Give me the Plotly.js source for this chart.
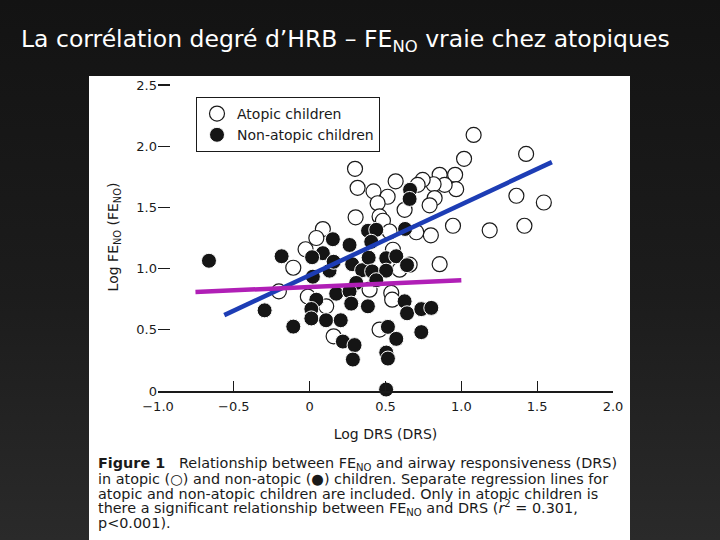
<!DOCTYPE html>
<html>
<head>
<meta charset="utf-8">
<script src="https://cdn.plot.ly/plotly-3.0.1.min.js"></script>
<style>
html, body { margin: 0; padding: 0; width: 720px; height: 540px; overflow: hidden;
  background: linear-gradient(to bottom, #131313 0%, #1c1c1c 55%, #2a2a2a 100%); }
#chart { width: 720px; height: 540px; }
</style>
</head>
<body>
<div id="chart"></div>
<script>
// ---- data ----
const atopicX = [1.081, 1.018, 1.427, 0.299, 0.316, 0.421, 0.567, 0.514, 0.857, 0.959,
  0.966, 0.890, 0.817, 0.745, 0.712, 0.824, 0.791, 0.448, 0.461, 0.626,
  0.303, 0.483, 1.363, 1.544, 0.945, 1.187, 1.416, 0.799, 0.703, 0.527,
  0.857, 0.087, 0.044, -0.027, 0.549, 0.659, 0.593, -0.108, -0.203, -0.012,
  0.109, 0.395, 0.538, 0.544, 0.461, 0.158];
const atopicY = [2.092, 1.897, 1.937, 1.815, 1.660, 1.631, 1.713, 1.587, 1.766, 1.766,
  1.649, 1.684, 1.689, 1.725, 1.684, 1.576, 1.517, 1.534, 1.426, 1.480,
  1.419, 1.391, 1.595, 1.540, 1.350, 1.313, 1.350, 1.272, 1.297, 1.303,
  1.036, 1.323, 1.250, 1.158, 1.154, 1.032, 0.991, 1.007, 0.814, 0.771,
  0.692, 0.828, 0.801, 0.746, 0.502, 0.447];

const nonAtopicX = [0.662, 0.659, 0.385, 0.439, 0.153, 0.263, 0.406, 0.629, 0.087, 0.016,
  0.021, 0.280, 0.346, 0.389, 0.412, 0.505, 0.571, 0.504, 0.642, 0.439,
  0.131, -0.664, -0.185, -0.297, -0.108, 0.307, 0.175, 0.263, 0.044, 0.011,
  0.274, 0.384, 0.626, 0.642, 0.736, 0.802, 0.011, 0.108, 0.205, 0.516,
  0.571, 0.736, 0.219, 0.296, 0.505, 0.516, 0.285, 0.504, 0.158];
const nonAtopicY = [1.644, 1.569, 1.309, 1.317, 1.240, 1.193, 1.219, 1.324, 1.126, 1.093,
  0.934, 1.036, 0.987, 1.089, 0.977, 1.085, 1.101, 0.983, 1.028, 0.905,
  0.983, 1.064, 1.101, 0.659, 0.526, 0.883, 0.795, 0.814, 0.746, 0.670,
  0.714, 0.692, 0.733, 0.635, 0.669, 0.679, 0.593, 0.578, 0.578, 0.524,
  0.426, 0.481, 0.404, 0.375, 0.314, 0.265, 0.257, 0.012, 1.056];

// regression lines (end points)
const atopicFitX = [-0.563, 1.597];
const atopicFitY = [0.62, 1.87];
const nonAtopicFitX = [-0.753, 1.0];
const nonAtopicFitY = [0.809, 0.904];

const seriesNames = ['Atopic children', 'Non-atopic children'];
const xTickVals = [-1, -0.5, 0, 0.5, 1, 1.5, 2];
const xTickText = ['\u22121.0', '\u22120.5', '0', '0.5', '1.0', '1.5', '2.0'];
const yTickVals = [0, 0.5, 1, 1.5, 2, 2.5];
const yTickText = ['0', '0.5', '1.0', '1.5', '2.0', '2.5'];

const slideTitle = 'La corrélation degré d\u2019HRB \u2013 FE<sub>NO</sub> vraie chez atopiques';
const xTitle = 'Log DRS (DRS)';
const yTitle = 'Log FE<sub>NO</sub> (FE<sub>NO</sub>)';
const captionLines = [
  '<b>Figure 1</b>   Relationship between FE<sub>NO</sub> and airway responsiveness (DRS)',
  'in atopic (\u25CB) and non-atopic (\u25CF) children. Separate regression lines for',
  'atopic and non-atopic children are included. Only in atopic children is',
  'there a significant relationship between FE<sub>NO</sub> and DRS (<i>r</i><sup>2</sup> = 0.301,',
  'p&lt;0.001).'
];

// ---- layout geometry (pixels) ----
const W = 720, H = 540;
const M = {l: 158, r: 107, t: 83, b: 149};
const PW = W - M.l - M.r, PH = H - M.t - M.b;
const px = v => (v - M.l) / PW;          // pixel x -> paper x
const py = v => (H - M.b - v) / PH;      // pixel y -> paper y
// y axis: value 2.5 sits at pixel 85, value 0 at the x axis line
const yTop = 2.5 * PH / (H - M.b - 85);

const FONT = 'DejaVu Sans';
const INK = '#1a1a1a';

const traces = [
  {x: atopicX, y: atopicY, type: 'scatter', mode: 'markers', name: seriesNames[0],
   cliponaxis: false,
   marker: {symbol: 'circle', size: 15, color: '#ffffff', line: {color: INK, width: 1.2}}},
  {x: nonAtopicX, y: nonAtopicY, type: 'scatter', mode: 'markers', name: seriesNames[1],
   cliponaxis: false,
   marker: {symbol: 'circle', size: 15, color: '#151515', line: {color: '#ffffff', width: 1}}},
  {x: atopicFitX, y: atopicFitY, type: 'scatter', mode: 'lines', showlegend: false,
   line: {color: '#1d3db5', width: 4.5}, hoverinfo: 'skip'},
  {x: nonAtopicFitX, y: nonAtopicFitY, type: 'scatter', mode: 'lines', showlegend: false,
   line: {color: '#b01fb6', width: 4.5}, hoverinfo: 'skip'}
];

const annotations = [
  {xref: 'paper', yref: 'paper', x: px(19), y: py(40), xanchor: 'left', yanchor: 'middle',
   text: slideTitle, showarrow: false, font: {family: FONT, size: 23.5, color: '#ffffff'}}
];
captionLines.forEach((t, i) => {
  annotations.push({xref: 'paper', yref: 'paper', x: px(96), y: py(464 + i * 14.8),
    xanchor: 'left', yanchor: 'middle', align: 'left', text: t, showarrow: false,
    font: {family: FONT, size: 14.4, color: INK}});
});

const layout = {
  width: W, height: H,
  margin: M,
  paper_bgcolor: 'rgba(0,0,0,0)',
  plot_bgcolor: 'rgba(0,0,0,0)',
  font: {family: FONT, color: INK},
  showlegend: true,
  legend: {x: px(196), y: py(97), xanchor: 'left', yanchor: 'top',
    bgcolor: '#ffffff', bordercolor: INK, borderwidth: 1, tracegroupgap: 0,
    font: {family: FONT, size: 14, color: INK}},
  xaxis: {range: [-1, 2], showgrid: false, zeroline: false, showline: true,
    linecolor: INK, linewidth: 1.5, ticks: 'inside', ticklen: 10, tickwidth: 1.3,
    tickcolor: INK, tickvals: xTickVals, ticktext: xTickText, ticklabelstandoff: 3,
    tickfont: {family: FONT, size: 13, color: INK},
    title: {text: xTitle, font: {family: FONT, size: 14, color: INK}, standoff: 16}},
  yaxis: {range: [0, yTop], showgrid: false, zeroline: false, showline: false,
    ticks: 'inside', ticklen: 12, tickwidth: 1.3, tickcolor: INK,
    tickvals: yTickVals, ticktext: yTickText,
    tickfont: {family: FONT, size: 13, color: INK},
    title: {text: yTitle, font: {family: FONT, size: 14, color: INK}, standoff: 14}},
  shapes: [
    {type: 'rect', xref: 'paper', yref: 'paper', layer: 'below',
     x0: px(89), x1: px(630), y0: py(540), y1: py(76),
     fillcolor: '#ffffff', line: {width: 0}}
  ],
  annotations: annotations
};

Plotly.newPlot('chart', traces, layout, {displayModeBar: false, staticPlot: true});
</script>
</body>
</html>
